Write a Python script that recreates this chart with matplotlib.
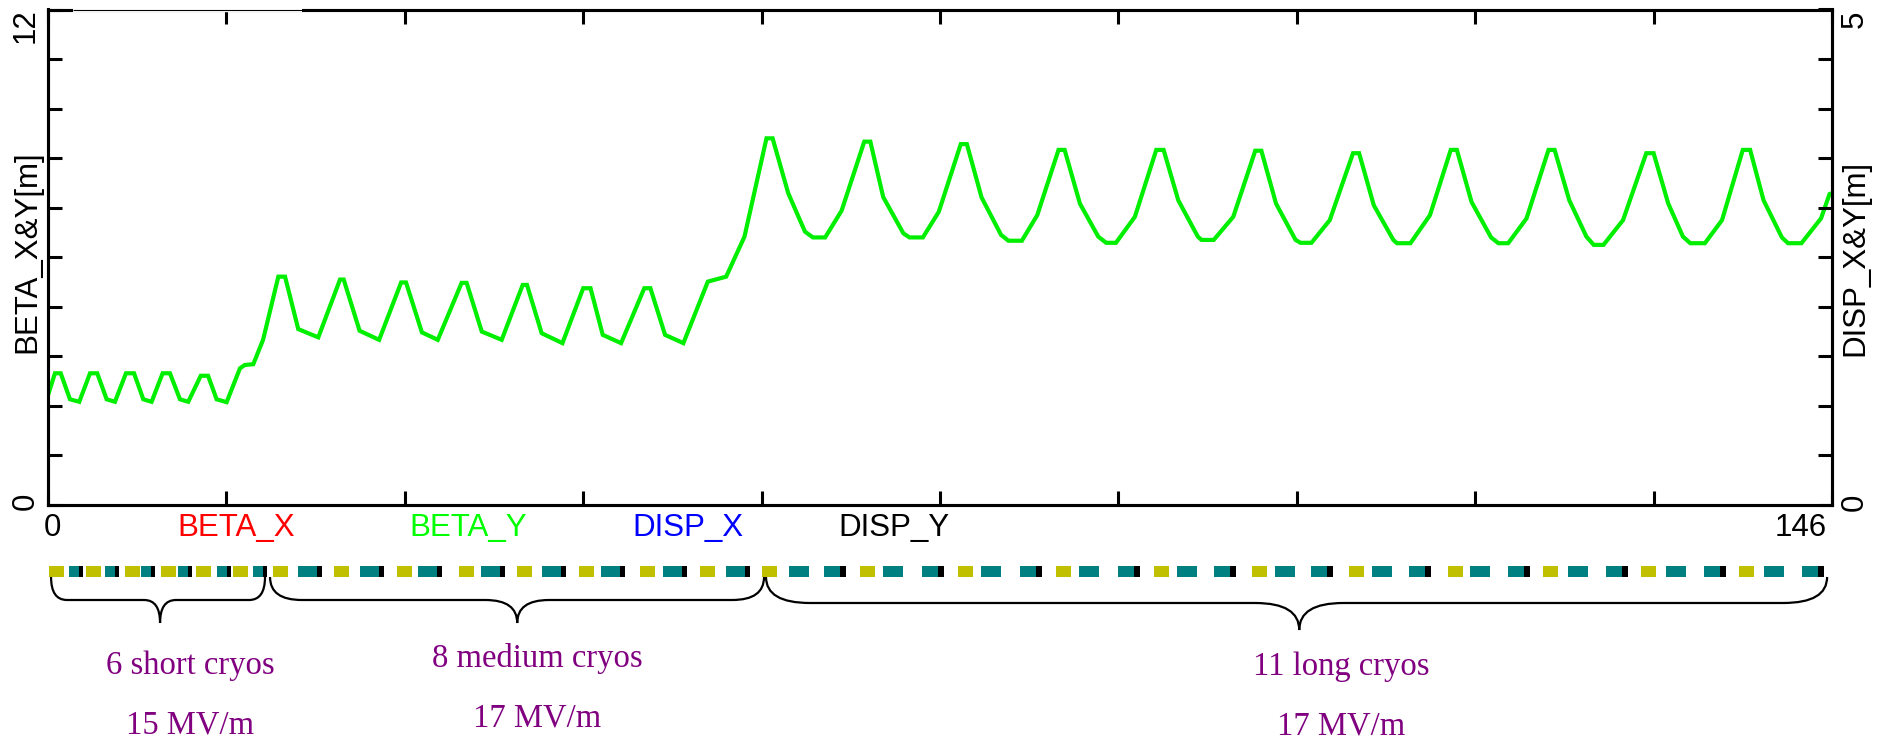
import numpy as np
import matplotlib
matplotlib.use("Agg")
import matplotlib.pyplot as plt
from matplotlib.patches import Rectangle, PathPatch
from matplotlib.path import Path

# ---------------- data ----------------
s_pos = [0.0, 0.57, 1.04, 1.80, 2.56,
         3.44, 4.03, 4.80, 5.48,
         6.38, 7.04, 7.80, 8.48,
         9.38, 9.98, 10.80, 11.48,
         12.50, 13.10, 13.80, 14.62,
         15.71, 16.10, 16.80, 17.60, 18.85, 19.40, 20.48, 22.12,
         23.90, 24.20, 25.50, 27.10,
         28.90, 29.30, 30.60, 31.90,
         33.85, 34.26, 35.50, 37.13,
         38.85, 39.20, 40.40, 42.10,
         43.80, 44.40, 45.40, 46.90,
         48.80, 49.30, 50.50, 52.00,
         54.00, 55.50, 57.00, 58.80, 59.30, 60.58, 61.95, 62.60, 63.60,
         64.95, 66.80, 67.30, 68.35, 70.00, 70.50, 71.60,
         72.90, 74.70, 75.20, 76.40, 78.00, 78.60, 79.70,
         80.96, 82.70, 83.20, 84.45, 85.95, 86.60, 87.40,
         88.95, 90.70, 91.30, 92.50, 94.10, 94.40, 95.40,
         97.00, 98.80, 99.30, 100.50, 102.10, 102.50, 103.40,
         104.90, 106.80, 107.30, 108.50, 110.10, 110.40, 111.50,
         113.10, 114.80, 115.30, 116.50, 118.10, 118.70, 119.50,
         121.00, 122.80, 123.30, 124.50, 125.90, 126.50, 127.30,
         128.90, 130.80, 131.40, 132.60, 133.80, 134.40, 135.60,
         137.00, 138.70, 139.30, 140.40, 141.90, 142.40, 143.50,
         145.10, 145.80, 146.00]
beta_y = [2.66, 3.19, 3.19, 2.56, 2.50,
          3.19, 3.19, 2.56, 2.50,
          3.19, 3.19, 2.56, 2.50,
          3.19, 3.19, 2.56, 2.50,
          3.13, 3.13, 2.56, 2.49,
          3.31, 3.39, 3.41, 4.00, 5.53, 5.53, 4.26, 4.06,
          5.46, 5.46, 4.22, 4.00,
          5.39, 5.39, 4.18, 4.00,
          5.38, 5.38, 4.20, 4.00,
          5.33, 5.33, 4.16, 3.92,
          5.25, 5.25, 4.12, 3.92,
          5.25, 5.25, 4.12, 3.92,
          5.41, 5.53, 6.50, 8.88, 8.88, 7.55, 6.62, 6.48, 6.48,
          7.13, 8.80, 8.80, 7.46, 6.58, 6.48, 6.48,
          7.10, 8.74, 8.74, 7.45, 6.54, 6.40, 6.40,
          7.02, 8.60, 8.60, 7.30, 6.50, 6.35, 6.35,
          6.98, 8.60, 8.60, 7.38, 6.50, 6.42, 6.42,
          6.98, 8.58, 8.58, 7.30, 6.42, 6.35, 6.35,
          6.90, 8.52, 8.52, 7.26, 6.42, 6.34, 6.34,
          7.02, 8.60, 8.60, 7.34, 6.48, 6.34, 6.34,
          6.94, 8.60, 8.60, 7.38, 6.50, 6.30, 6.30,
          6.90, 8.52, 8.52, 7.30, 6.50, 6.34, 6.34,
          6.90, 8.60, 8.60, 7.38, 6.48, 6.34, 6.34,
          6.94, 7.53, 7.55]

# lattice element start positions [m]
short_quad = [0.12, 3.11, 6.30, 9.25, 12.11, 15.14]
short_cryo = [1.72, 4.66, 7.61, 10.64, 13.83, 16.78]
medium_quad = [18.41, 23.40, 28.56, 33.63, 38.38, 43.45, 48.45, 53.36]
medium_cryo = [20.46, 25.53, 30.28, 35.43, 40.43, 45.25, 50.33, 55.48]
long_quad = [58.43, 66.45, 74.47, 82.49, 90.51, 98.53, 106.46, 114.57,
             122.34, 130.36, 138.38]
long_cryo_a = [60.64, 68.33, 76.35, 84.37, 92.39, 100.41, 108.35, 116.37,
               124.39, 132.41, 140.43]
long_cryo_b = [63.50, 71.52, 79.54, 87.56, 95.42, 103.36, 111.37, 119.48,
               127.50, 135.52, 143.54]

# braces: (start, tip, end) [m]
brace_start = [0.25, 18.17, 58.76]
brace_tip = [9.17, 38.40, 102.40]
brace_end = [17.76, 58.60, 145.60]

x_ticks = np.linspace(0, 146, 11)
legend_names = ["BETA_X", "BETA_Y", "DISP_X", "DISP_Y"]
section_names = ["6 short cryos", "8 medium cryos", "11 long cryos"]
section_fields = ["15 MV/m", "17 MV/m", "17 MV/m"]

# ---------------- figure ----------------
W, H = 1881, 740
fig = plt.figure(figsize=(W / 100, H / 100), dpi=100)
L, R, T, B = 48, 1832, 9.5, 505


def fpos(x, y):
    return x / W, 1 - y / H


ax = fig.add_axes([L / W, 1 - B / H, (R - L) / W, (B - T) / H])
ax.plot(s_pos, beta_y, color="#00ee00", lw=3.0, solid_joinstyle="miter", zorder=3)
ax.set_xlim(0, 146)
ax.set_ylim(0, 12)
ax.set_xticks(x_ticks)
ax.set_yticks(np.linspace(0, 12, 11))
ax.tick_params(direction="in", length=10, width=2.2, top=True,
               labelbottom=False, labelleft=False)
ax2 = ax.twinx()
ax2.set_ylim(0, 5)
ax2.set_yticks(np.linspace(0, 5, 11))
ax2.tick_params(direction="in", length=10, width=2.2, labelright=False)
for a in (ax, ax2):
    for sp in a.spines.values():
        sp.set_linewidth(2.2)

# thin part of the top frame
x0f, x1f = (73 - L) / (R - L), (302 - L) / (R - L)
ax2.plot([x0f, x1f], [1, 1], transform=ax2.transAxes, color="white", lw=3.2,
         clip_on=False, zorder=10, solid_capstyle="butt")
ax2.plot([x0f, x1f], [1, 1], transform=ax2.transAxes, color="black", lw=0.8,
         clip_on=False, zorder=11, solid_capstyle="butt")

sans = "Liberation Sans"
fs = 22.5
# tick labels
fig.text(*fpos(52, 528), "0", ha="center", va="center", fontsize=fs, family=sans)
fig.text(*fpos(1827, 528), "146", ha="right", va="center", fontsize=fs, family=sans)
fig.text(*fpos(26, 26), "12", ha="center", va="center", rotation=90, fontsize=fs, family=sans)
fig.text(*fpos(26, 501), "0", ha="center", va="center", rotation=90, fontsize=fs, family=sans)
fig.text(*fpos(1855, 19), "5", ha="center", va="center", rotation=90, fontsize=fs, family=sans)
fig.text(*fpos(1855, 502), "0", ha="center", va="center", rotation=90, fontsize=fs, family=sans)
fig.text(*fpos(27, 252), "BETA_X&Y[m]", ha="center", va="center", rotation=90,
         fontsize=fs, family=sans)
fig.text(*fpos(1855, 258), "DISP_X&Y[m]", ha="center", va="center", rotation=90,
         fontsize=fs, family=sans)

legend_x = [236, 468, 688, 894]
legend_colors = ["#ff0000", "#00ff00", "#0000ff", "#000000"]
for name, xc, c in zip(legend_names, legend_x, legend_colors):
    fig.text(*fpos(xc, 528), name, ha="center", va="center", fontsize=fs,
             family=sans, color=c)

# ---------------- lattice bar and braces ----------------
ax3 = fig.add_axes([L / W, 1 - 645 / H, (R - L) / W, (645 - 555) / H])
ax3.set_xlim(0, 146)
ax3.set_ylim(645, 555)
ax3.axis("off")
YEL, TEAL = "#c0c000", "#008080"
ytop, hgt = 566, 11


def box(x, w, c):
    ax3.add_patch(Rectangle((x, ytop), w, hgt, facecolor=c, edgecolor="none"))


for x in short_quad + medium_quad + long_quad:
    box(x, 1.22, YEL)
for x in short_cryo:
    box(x, 0.82, TEAL)
    box(x + 0.82, 0.33, "black")
for x in medium_cryo:
    box(x, 1.55, TEAL)
    box(x + 1.55, 0.41, "black")
for x in long_cryo_a:
    box(x, 1.64, TEAL)
for x in long_cryo_b:
    box(x, 1.31, TEAL)
    box(x + 1.31, 0.49, "black")

brace_geo = [(577, 600, 623, 1.3), (577, 600, 623, 2.6), (577, 603, 630, 3.6)]
for xs, xm, xe, (y0, y1, y2, r) in zip(brace_start, brace_tip, brace_end, brace_geo):
    verts = [(xs, y0), (xs, y1), (xs + r, y1),
             (xm - r, y1), (xm, y1), (xm, y2),
             (xm, y1), (xm + r, y1),
             (xe - r, y1), (xe, y1), (xe, y0)]
    codes = [Path.MOVETO, Path.CURVE3, Path.CURVE3,
             Path.LINETO, Path.CURVE3, Path.CURVE3,
             Path.CURVE3, Path.CURVE3,
             Path.LINETO, Path.CURVE3, Path.CURVE3]
    ax3.add_patch(PathPatch(Path(verts, codes), facecolor="none",
                            edgecolor="black", lw=1.6))

serif = "Liberation Serif"
purple = "#800080"
sec_x = [190, 537, 1341]
for name, fld, xc, yn, yf in zip(section_names, section_fields, sec_x,
                                 [666, 659, 667], [725, 718, 726]):
    fig.text(*fpos(xc, yn), name, ha="center", va="center", fontsize=23.5,
             family=serif, color=purple)
    fig.text(*fpos(xc, yf), fld, ha="center", va="center", fontsize=23.5,
             family=serif, color=purple)

fig.savefig("out.png", dpi=100)
